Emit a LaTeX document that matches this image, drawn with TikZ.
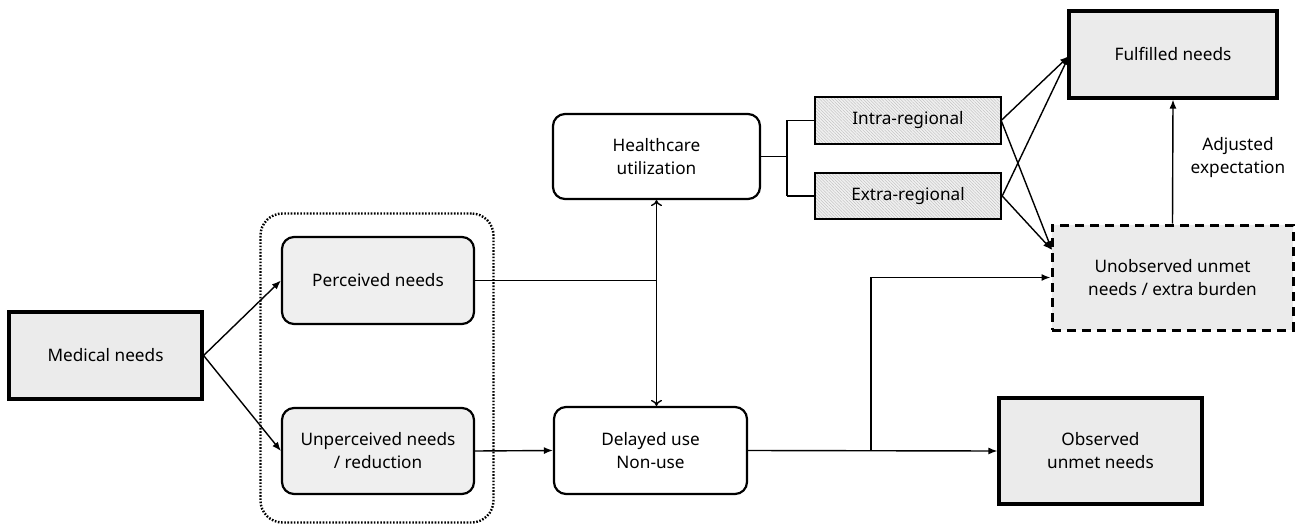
\documentclass[tikz,border=0pt]{standalone}
\usepackage{fontspec}
\setmainfont{Noto Sans}
\usetikzlibrary{arrows.meta,patterns.meta}
\definecolor{boxgray}{HTML}{EBEBEB}
\definecolor{dotgray}{HTML}{EFEFEF}
\tikzset{
  base/.style={align=center, inner sep=0pt, font=\fontsize{17.2}{23}\selectfont},
  heavybox/.style={base, draw, line width=3.2pt, fill=boxgray},
  roundbox/.style={base, draw, line width=2.2pt, rounded corners=12pt},
  shadedround/.style={roundbox, fill=dotgray},
  hatchbox/.style={base, draw, line width=2.4pt,
     preaction={fill=gray!12},
     pattern={Lines[angle=-45,distance=2.2pt,line width=0.35pt]}, pattern color=gray!55},
  dashbox/.style={base, draw, line width=3pt, dash pattern=on 9pt off 6pt, fill=boxgray},
  conn/.style={line width=1.4pt},
  arr/.style={conn, -{Latex[length=9pt,width=7pt]}},
  darr/.style={conn, {To[length=6pt,width=11pt]}-{To[length=6pt,width=11pt]}},
}
\begin{document}
\begin{tikzpicture}[x=1pt,y=-1pt]
\useasboundingbox (0,0) rectangle (1304,524);
% group
\node[draw, line width=2.4pt, dash pattern=on 1.6pt off 1.6pt, rounded corners=22pt, minimum width=233pt, minimum height=309pt, inner sep=0pt] (grp) at (377,368) {};
% nodes
\node[heavybox, minimum width=193pt, minimum height=87pt] (med) at (105.5,355.5) {Medical needs};
\node[shadedround, minimum width=192pt, minimum height=87pt] (per) at (378,280.5) {Perceived needs};
\node[shadedround, minimum width=192pt, minimum height=86pt] (unp) at (378,451) {Unperceived needs\\/ reduction};
\node[roundbox, fill=white, minimum width=207pt, minimum height=85pt] (hcu) at (656.5,156.5) {Healthcare\\utilization};
\node[roundbox, fill=white, minimum width=193pt, minimum height=87pt] (del) at (650.5,450.5) {Delayed use\\Non-use};
\node[hatchbox, minimum width=186pt, minimum height=47pt] (intra) at (908,120.5) {Intra-regional};
\node[hatchbox, minimum width=186pt, minimum height=46pt] (extra) at (908,196) {Extra-regional};
\node[heavybox, minimum width=208pt, minimum height=87pt] (ful) at (1173,54.5) {Fulfilled needs};
\node[dashbox, minimum width=241pt, minimum height=105pt] (uno) at (1172.5,277.5) {Unobserved unmet\\needs / extra burden};
\node[heavybox, minimum width=203pt, minimum height=106pt] (obs) at (1100.5,451) {Observed\\unmet needs};
\node[base, anchor=center] (adj) at (1238,158) {Adjusted\\expectation};
% coordinates
\coordinate (br) at (787,156.5);
\coordinate (vj) at (656,280.5);
\coordinate (dj) at (871,450.5);
\coordinate (ut) at (1052,250);
% connectors
\draw[arr] (med.east) -- (per.west);
\draw[arr] (med.east) -- (unp.west);
\draw[conn] (per.east) -- (vj);
\draw[darr] (hcu.south) -- (hcu.south |- del.north);
\draw[arr] (unp.east) -- (del.west);
\draw[conn] (hcu.east) -- (br);
\draw[conn] (br |- intra.west) -- (br |- extra.west);
\draw[conn] (br |- intra.west) -- (intra.west);
\draw[conn] (br |- extra.west) -- (extra.west);
\draw[arr] (intra.east) -- (1069,56);
\draw[arr] (extra.east) -- (1069,56);
\draw[arr] (intra.east) -- (ut);
\draw[arr] (extra.east) -- (ut);
\draw[arr] (uno.north) -- (ful.south);
\draw[arr] (del.east) -- (obs.west);
\draw[arr] (dj) |- (uno.west);
\end{tikzpicture}
\end{document}
